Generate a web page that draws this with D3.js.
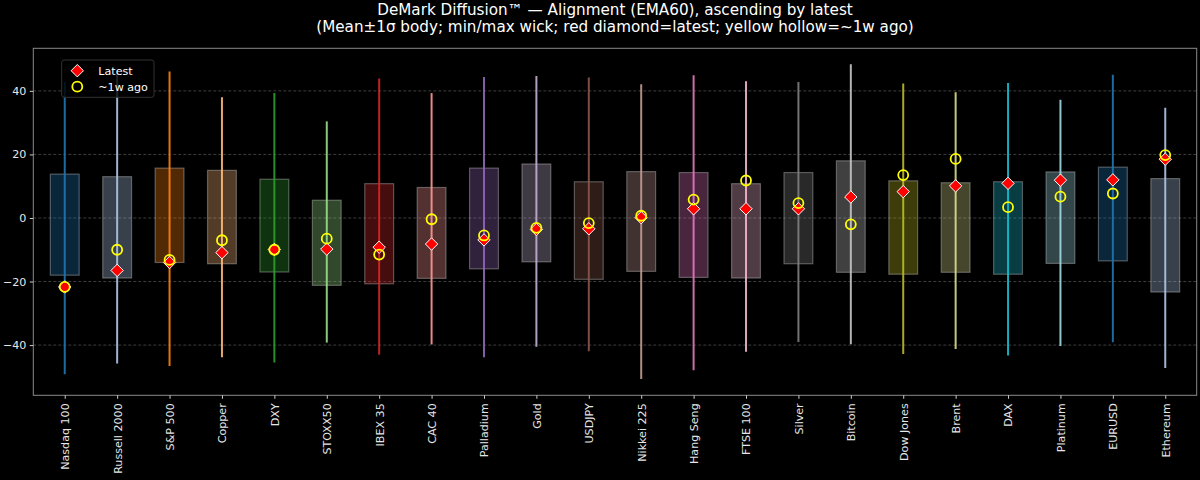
<!DOCTYPE html>
<html><head><meta charset="utf-8">
<script src="https://cdn.jsdelivr.net/npm/d3@7"></script>
<style>
html,body{margin:0;padding:0;background:#000;}
svg{display:block;font-family:"DejaVu Sans",sans-serif;}
</style></head>
<body>
<svg id="chart" width="1200" height="480"></svg>
<script>
const categories = ["Nasdaq 100","Russell 2000","S&P 500","Copper","DXY","STOXX50","IBEX 35","CAC 40","Palladium","Gold","USDJPY","Nikkei 225","Hang Seng","FTSE 100","Silver","Bitcoin","Dow Jones","Brent","DAX","Platinum","EURUSD","Ethereum"];
const meanVals = [-2.1,-2.95,0.85,0.3,-2.4,-7.8,-4.95,-4.7,-0.15,1.6,-3.95,-1.1,-2.2,-4.05,-0.05,0.45,-3.0,-3.0,-3.15,0.1,1.25,-5.45];
const sdVals = [15.9,15.95,14.85,14.7,14.6,13.4,15.75,14.3,15.85,15.4,15.35,15.7,16.5,14.85,14.35,17.55,14.7,14.1,14.55,14.4,14.75,17.85];
const minVals = [-49.2,-45.8,-46.6,-43.8,-45.5,-39.2,-43.0,-39.8,-43.8,-40.5,-41.9,-50.7,-47.9,-42.1,-39.0,-39.7,-42.8,-41.2,-43.3,-40.3,-39.1,-47.2];
const maxVals = [42.9,46.1,46.1,38.0,39.3,30.4,43.9,39.3,44.4,44.7,44.2,42.1,44.9,43.0,42.8,48.4,42.3,39.6,42.5,37.2,45.1,34.7];
const latestVals = [-21.7,-16.5,-14.0,-10.9,-9.9,-9.8,-9.2,-8.2,-6.9,-3.6,-3.4,0.1,2.9,2.9,2.9,6.6,8.3,10.1,10.9,11.9,12.0,18.5];
const agoVals = [-21.7,-10.0,-13.2,-7.0,-10.0,-6.5,-11.5,-0.4,-5.5,-3.1,-1.6,0.7,5.8,11.8,4.7,-2.0,13.5,18.6,3.4,6.7,7.7,19.8];
const yTicks = [-40,-20,0,20,40];
const titleLines = ["DeMark Diffusion\u2122 \u2014 Alignment (EMA60), ascending by latest","(Mean\u00b11\u03c3 body; min/max wick; red diamond=latest; yellow hollow=~1w ago)"];
const palette = ["#1f77b4","#aec7e8","#ff7f0e","#ffbb78","#2ca02c","#98df8a","#d62728","#ff9896","#9467bd","#c5b0d5","#8c564b","#c49c94","#e377c2","#f7b6d2","#7f7f7f","#c7c7c7","#bcbd22","#dbdb8d","#17becf","#9edae5"];

const svg = d3.select("#chart");
const L = 33.3, R = 1196.7, T = 48.3, B = 395.3;
const x = d3.scaleLinear().domain([-0.6, categories.length - 0.4]).range([L, R]);
const y = d3.scaleLinear().domain([-55.8, 53.4]).range([B, T]);
const color = i => palette[i % palette.length];
const boxW = x(0.55) - x(0);

svg.append("rect").attr("width",1200).attr("height",480).attr("fill","#000");

// grid
svg.append("g").selectAll("line").data(yTicks).join("line")
  .attr("x1",L).attr("x2",R).attr("y1",d=>y(d)).attr("y2",d=>y(d))
  .attr("stroke","#ffffff").attr("stroke-opacity",0.3).attr("stroke-width",0.8)
  .attr("stroke-dasharray","3,2");

const data = categories.map((c,i)=>({c,i,mean:meanVals[i],sd:sdVals[i],min:minVals[i],max:maxVals[i],latest:latestVals[i],ago:agoVals[i]}));

// boxes
svg.append("g").selectAll("rect").data(data).join("rect")
  .attr("x",d=>x(d.i)-boxW/2).attr("width",boxW)
  .attr("y",d=>y(d.mean+d.sd)).attr("height",d=>y(d.mean-d.sd)-y(d.mean+d.sd))
  .attr("fill",d=>color(d.i)).attr("fill-opacity",0.32)
  .attr("stroke","#ffffff").attr("stroke-opacity",0.3).attr("stroke-width",1.2);

// wicks
svg.append("g").selectAll("line").data(data).join("line")
  .attr("x1",d=>x(d.i)).attr("x2",d=>x(d.i))
  .attr("y1",d=>y(d.max)).attr("y2",d=>y(d.min))
  .attr("stroke",d=>color(d.i)).attr("stroke-width",2).attr("stroke-opacity",0.9);

// latest diamonds
const dsz = 6.2;
const diamond = (cx,cy)=>`M${cx},${cy-dsz}L${cx+dsz},${cy}L${cx},${cy+dsz}L${cx-dsz},${cy}Z`;
svg.append("g").selectAll("path").data(data).join("path")
  .attr("d",d=>diamond(x(d.i),y(d.latest)))
  .attr("fill","#ff0000").attr("stroke","#ffffff").attr("stroke-width",1);

// ago circles
svg.append("g").selectAll("circle").data(data).join("circle")
  .attr("cx",d=>x(d.i)).attr("cy",d=>y(d.ago)).attr("r",5)
  .attr("fill","none").attr("stroke","#ffff00").attr("stroke-width",1.8);

// axes frame
svg.append("rect").attr("x",L).attr("y",T).attr("width",R-L).attr("height",B-T)
  .attr("fill","none").attr("stroke","#8a8a8a").attr("stroke-width",1);

// y axis
const yAxis = svg.append("g").attr("transform",`translate(${L},0)`)
  .call(d3.axisLeft(y).tickValues(yTicks).tickSize(3.5).tickPadding(3.5).tickFormat(d3.format("d")));
yAxis.select(".domain").remove();
yAxis.selectAll("line").attr("stroke","#cccccc");
yAxis.selectAll("text").attr("fill","#e6e6e6").attr("font-size","11.1px").attr("font-family","DejaVu Sans");

// x axis
const xAxis = svg.append("g").attr("transform",`translate(0,${B})`)
  .call(d3.axisBottom(x).tickValues(d3.range(categories.length)).tickSize(3.5).tickFormat(i=>categories[i]));
xAxis.select(".domain").remove();
xAxis.selectAll("line").attr("stroke","#cccccc");
xAxis.selectAll("text")
  .attr("fill","#e6e6e6").attr("font-size","11.1px").attr("font-family","DejaVu Sans")
  .attr("transform","rotate(-90)").attr("text-anchor","end")
  .attr("x",-8).attr("y",0).attr("dy","0.35em");

// title
svg.append("g").selectAll("text").data(titleLines).join("text")
  .attr("x",(L+R)/2).attr("y",(d,i)=>15.3+i*16.7)
  .attr("text-anchor","middle").attr("fill","#ffffff").attr("font-size","15.2px")
  .text(d=>d);

// legend
const lg = svg.append("g");
lg.append("rect").attr("x",61.7).attr("y",60).attr("width",92.3).attr("height",37.3).attr("rx",2.5)
  .attr("fill","#000").attr("fill-opacity",0.8).attr("stroke","#333").attr("stroke-width",1);
lg.append("path").attr("d",diamond(77.3,70.7)).attr("fill","#ff0000").attr("stroke","#ffffff").attr("stroke-width",1);
lg.append("circle").attr("cx",77.3).attr("cy",86.7).attr("r",5).attr("fill","none").attr("stroke","#ffff00").attr("stroke-width",1.8);
lg.append("text").attr("x",98.3).attr("y",70.7).attr("dy","0.35em").attr("fill","#ffffff").attr("font-size","11.1px").text("Latest");
lg.append("text").attr("x",98.3).attr("y",86.7).attr("dy","0.35em").attr("fill","#ffffff").attr("font-size","11.1px").text("~1w ago");
</script>
</body></html>
